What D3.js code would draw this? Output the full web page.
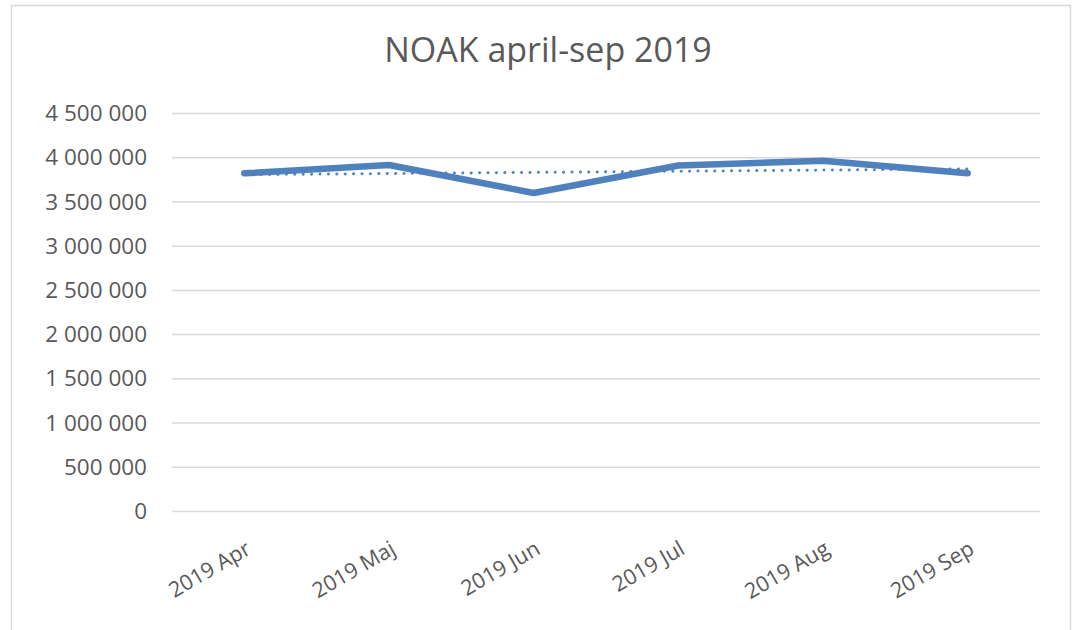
<!DOCTYPE html>
<html>
<head>
<meta charset="utf-8">
<script src="https://cdn.jsdelivr.net/npm/d3@7"></script>
<style>
  body { margin: 0; background: #fff; }
  text { font-family: "Open Sans", sans-serif; fill: #595959; }
  .grid line { stroke: #d9d9d9; stroke-width: 1.5; }
  .grid path { display: none; }
</style>
</head>
<body>
<div id="chart"></div>
<script>
var months = ["2019 Apr", "2019 Maj", "2019 Jun", "2019 Jul", "2019 Aug", "2019 Sep"];
var values = [3818000, 3912000, 3596000, 3906000, 3960000, 3818000];
var yTicks = [0, 500000, 1000000, 1500000, 2000000, 2500000, 3000000, 3500000, 4000000, 4500000];
var title = "NOAK april-sep 2019";

var view = {
    width: 1077,
    height: 630,
    left: 172,
    right: 1040,
    top: 113,
    bottom: 511
};

var svg = d3.select("#chart").append("svg")
    .attr("width", view.width)
    .attr("height", view.height);

// chart frame
svg.append("rect")
    .attr("x", 11.5).attr("y", 5.5)
    .attr("width", 1059).attr("height", 640)
    .attr("fill", "#fff")
    .attr("stroke", "#d9d9d9")
    .attr("stroke-width", 1.5);

var x = d3.scaleBand()
    .domain(months)
    .range([view.left, view.right]);

var y = d3.scaleLinear()
    .domain([0, 4500000])
    .range([view.bottom, view.top]);

var se = d3.formatLocale({ decimal: ",", thousands: "\u00a0", grouping: [3], currency: ["", " kr"] });
var fmt = se.format(",d");

// gridlines
svg.append("g")
    .attr("class", "grid")
    .attr("transform", "translate(" + view.left + ",0)")
    .call(d3.axisLeft(y).tickValues(yTicks).tickSize(-(view.right - view.left)).tickFormat(""));

// y labels
svg.append("g").selectAll("text")
    .data(yTicks)
    .join("text")
    .attr("x", view.left - 25)
    .attr("y", function(d) { return y(d); })
    .attr("dy", "0.36em")
    .attr("text-anchor", "end")
    .style("font-size", "22.5px")
    .text(function(d) { return fmt(d); });

// x labels
svg.append("g").selectAll("text")
    .data(months)
    .join("text")
    .attr("transform", function(d) {
        return "translate(" + (x(d) + x.bandwidth() / 2 + 8) + ",553) rotate(-30)";
    })
    .attr("text-anchor", "end")
    .style("font-size", "21.5px")
    .text(function(d) { return d; });

// title
svg.append("text")
    .attr("x", 548)
    .attr("y", 62)
    .attr("text-anchor", "middle")
    .style("font-size", "34px")
    .text(title);

var cx = function(d, i) { return x(months[i]) + x.bandwidth() / 2; };

// linear trendline (least squares over the series)
var n = values.length;
var mx = d3.mean(values, function(d, i) { return i; });
var my = d3.mean(values);
var sxy = d3.sum(values, function(d, i) { return (i - mx) * (d - my); });
var sxx = d3.sum(values, function(d, i) { return (i - mx) * (i - mx); });
var slope = sxy / sxx;
var trend = [my - slope * mx, my + slope * (n - 1 - mx)];

svg.append("line")
    .attr("x1", cx(null, 0)).attr("y1", y(trend[0]))
    .attr("x2", cx(null, n - 1)).attr("y2", y(trend[1]))
    .attr("stroke", "#4f81bd")
    .attr("stroke-width", 3)
    .attr("stroke-linecap", "round")
    .attr("stroke-dasharray", "0.1,8.3");

var line = d3.line()
    .x(cx)
    .y(function(d) { return y(d); });

svg.append("path")
    .datum(values)
    .attr("d", line)
    .attr("fill", "none")
    .attr("stroke", "#4f81bd")
    .attr("stroke-width", 6.5)
    .attr("stroke-linecap", "round")
    .attr("stroke-linejoin", "round");
</script>
</body>
</html>
